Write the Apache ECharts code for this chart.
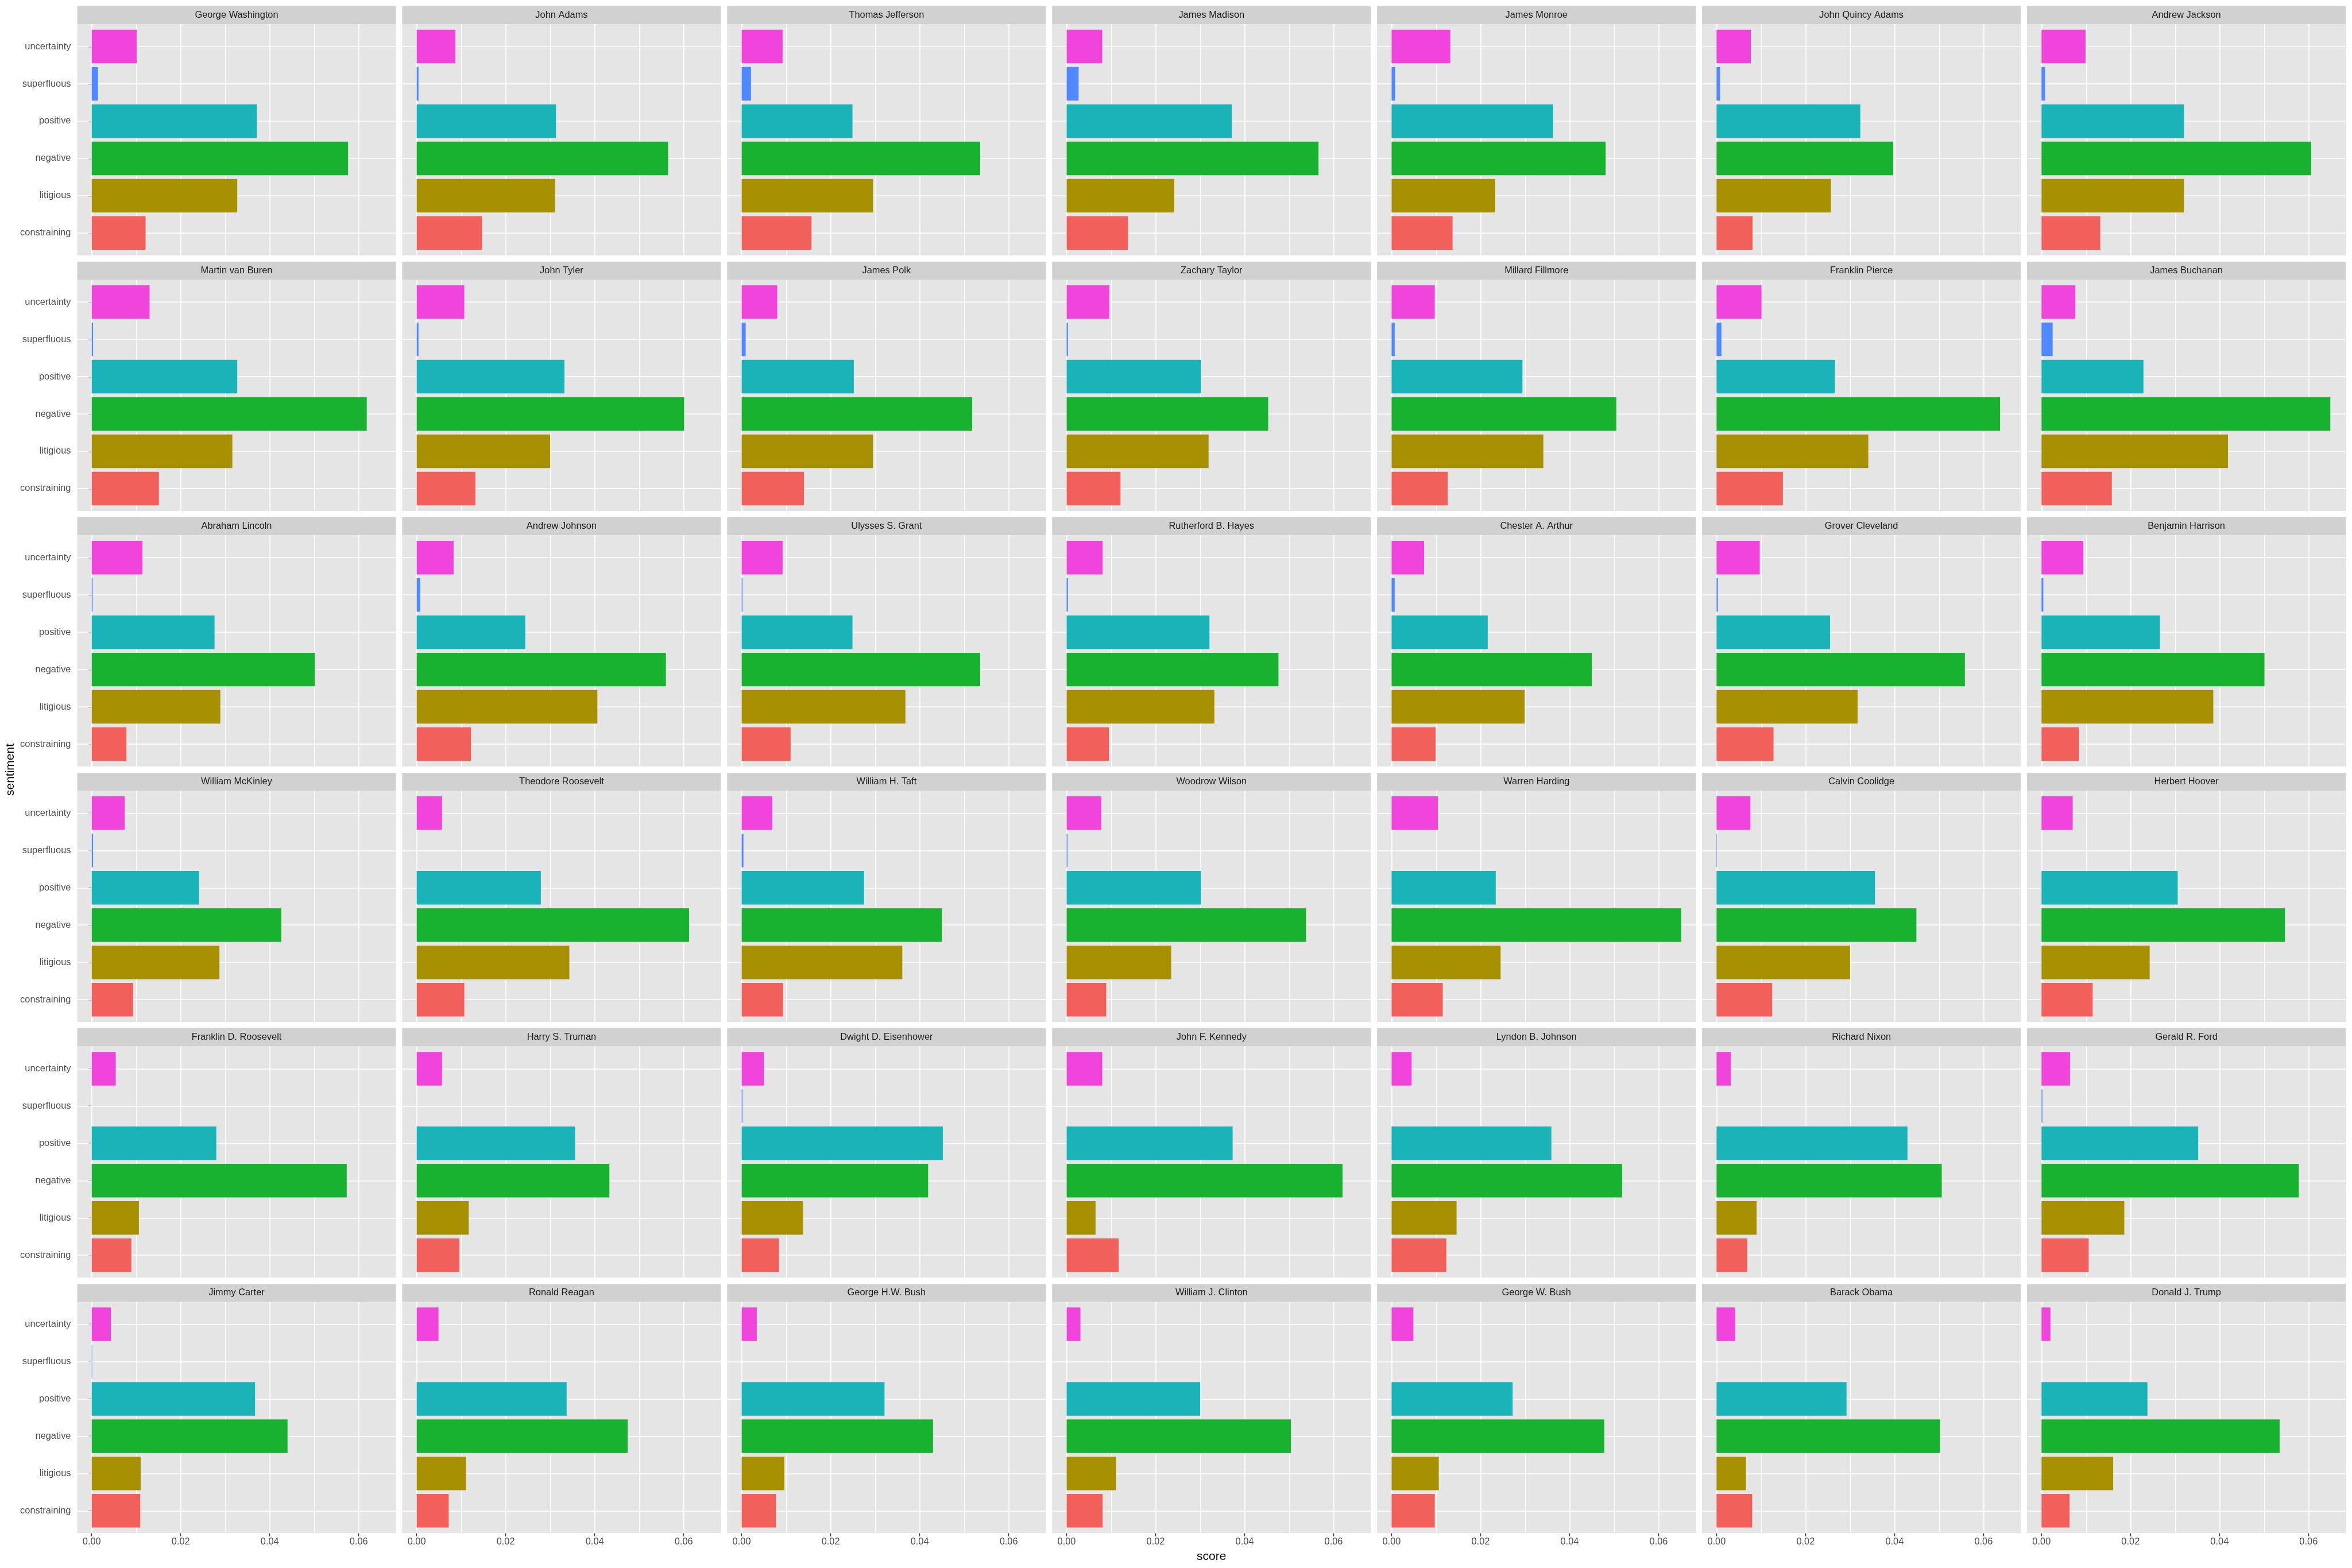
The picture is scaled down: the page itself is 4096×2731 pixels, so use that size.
<!DOCTYPE html>
<html><head><meta charset="utf-8">
<script src="https://cdn.jsdelivr.net/npm/echarts@6/dist/echarts.min.js"></script>
<style>html,body{margin:0;padding:0;background:#fff}#c{width:4096px;height:2731px}</style>
</head><body><div id="c"></div>
<script>
// ---------------- data ----------------
const presidents = [
  'George Washington','John Adams','Thomas Jefferson','James Madison','James Monroe','John Quincy Adams','Andrew Jackson',
  'Martin van Buren','John Tyler','James Polk','Zachary Taylor','Millard Fillmore','Franklin Pierce','James Buchanan',
  'Abraham Lincoln','Andrew Johnson','Ulysses S. Grant','Rutherford B. Hayes','Chester A. Arthur','Grover Cleveland','Benjamin Harrison',
  'William McKinley','Theodore Roosevelt','William H. Taft','Woodrow Wilson','Warren Harding','Calvin Coolidge','Herbert Hoover',
  'Franklin D. Roosevelt','Harry S. Truman','Dwight D. Eisenhower','John F. Kennedy','Lyndon B. Johnson','Richard Nixon','Gerald R. Ford',
  'Jimmy Carter','Ronald Reagan','George H.W. Bush','William J. Clinton','George W. Bush','Barack Obama','Donald J. Trump'
];
const sentiments = ['constraining','litigious','negative','positive','superfluous','uncertainty'];

const constraining = [0.0121,0.0147,0.0157,0.0138,0.0137,0.0081,0.0132,
  0.0151,0.0132,0.0140,0.0121,0.0126,0.0149,0.0158,
  0.0078,0.0122,0.0110,0.0095,0.0099,0.0128,0.0084,
  0.0093,0.0107,0.0093,0.0089,0.0115,0.0125,0.0115,
  0.0089,0.0096,0.0084,0.0117,0.0123,0.0069,0.0106,
  0.0109,0.0072,0.0077,0.0081,0.0097,0.0080,0.0063];
const litigious = [0.0327,0.0311,0.0295,0.0242,0.0233,0.0257,0.0320,
  0.0316,0.0300,0.0295,0.0319,0.0341,0.0341,0.0419,
  0.0289,0.0406,0.0368,0.0332,0.0299,0.0317,0.0386,
  0.0287,0.0343,0.0361,0.0235,0.0245,0.0300,0.0243,
  0.0106,0.0117,0.0138,0.0065,0.0146,0.0090,0.0186,
  0.0110,0.0111,0.0096,0.0111,0.0106,0.0066,0.0161];
const negative = [0.0576,0.0565,0.0536,0.0566,0.0481,0.0397,0.0606,
  0.0618,0.0601,0.0518,0.0453,0.0505,0.0637,0.0649,
  0.0501,0.0560,0.0536,0.0476,0.0450,0.0558,0.0501,
  0.0426,0.0612,0.0450,0.0538,0.0651,0.0449,0.0547,
  0.0573,0.0433,0.0419,0.0620,0.0518,0.0506,0.0578,
  0.0440,0.0474,0.0430,0.0504,0.0478,0.0502,0.0535];
const positive = [0.0371,0.0313,0.0249,0.0371,0.0363,0.0323,0.0320,
  0.0327,0.0332,0.0252,0.0302,0.0294,0.0266,0.0229,
  0.0276,0.0244,0.0249,0.0321,0.0216,0.0255,0.0266,
  0.0241,0.0279,0.0275,0.0302,0.0234,0.0356,0.0306,
  0.0280,0.0356,0.0452,0.0373,0.0359,0.0429,0.0352,
  0.0367,0.0337,0.0321,0.0300,0.0272,0.0292,0.0238];
const superfluous = [0.0014,0.0004,0.0021,0.0027,0.0008,0.0008,0.0008,
  0.0003,0.0004,0.0009,0.0003,0.0007,0.0011,0.0025,
  0.0002,0.0008,0.0002,0.0003,0.0007,0.0003,0.0004,
  0.0003,0,0.0004,0.0002,0,0.0001,0,
  0,0,0.0002,0,0,0,0.0002,
  0.0001,0,0,0,0,0,0];
const uncertainty = [0.0101,0.0087,0.0092,0.0080,0.0132,0.0077,0.0099,
  0.0130,0.0107,0.0080,0.0096,0.0097,0.0101,0.0076,
  0.0114,0.0083,0.0092,0.0081,0.0073,0.0097,0.0094,
  0.0074,0.0057,0.0069,0.0078,0.0104,0.0076,0.0070,
  0.0054,0.0057,0.0050,0.0080,0.0045,0.0032,0.0064,
  0.0043,0.0049,0.0034,0.0031,0.0049,0.0042,0.0020];
const xTickValues = [0, 0.02, 0.04, 0.06];
const xMinorValues = [0.01, 0.03, 0.05];
const xTitle = 'score';
const yTitle = 'sentiment';

// ---------------- styling / layout ----------------
const seriesBySentiment = [constraining, litigious, negative, positive, superfluous, uncertainty];
const COLORS = ['#F2605C','#A89003','#19B230','#19B3B8','#5088FF','#F044DC'];
const S = 4096/6000;
const FONT = '"Liberation Sans", Arial, Helvetica, sans-serif';
const NCOL = 7;
const colLeft = c => (197 + 829*c)*S;
const rowTop = r => (15.6 + 652*r)*S;
const panelW = 813*S, stripH = 46*S, panelH = 590*S;
const inset = panelH/6.2*0.1;

const allVals = [].concat(...seriesBySentiment);
const dMax = Math.max(...allVals);
const xMin = -0.05*dMax, xMax = dMax*1.05;

const grid = [], xAxis = [], yAxis = [], series = [], graphic = [];
presidents.forEach((name, p) => {
  const r = Math.floor(p/NCOL), c = p%NCOL;
  const L = colLeft(c), T = rowTop(r) + stripH;
  const bottomRow = r === Math.floor((presidents.length-1)/NCOL);
  const gA = grid.length;
  grid.push({left:L, top:T, width:panelW, height:panelH, show:true, backgroundColor:'#E5E5E5', borderWidth:0});
  grid.push({left:L, top:T+inset, width:panelW, height:panelH-2*inset, show:false});
  xAxis.push({type:'value', gridIndex:gA, min:xMin, max:xMax,
    axisLine:{show:false}, splitLine:{show:false}, minorSplitLine:{show:false},
    axisTick:{show:bottomRow, customValues:xTickValues, length:5.5, lineStyle:{color:'#333333', width:1.4}},
    axisLabel:{show:bottomRow, customValues:xTickValues, formatter:v=>v.toFixed(2), fontSize:16.4, color:'#4D4D4D', margin:7, fontFamily:FONT}
  });
  xAxis.push({type:'value', gridIndex:gA+1, min:xMin, max:xMax, show:false, splitLine:{show:false}});
  yAxis.push({type:'value', gridIndex:gA, min:0, max:1, show:false, splitLine:{show:false}});
  yAxis.push({type:'category', gridIndex:gA+1, data:sentiments,
    axisLine:{show:false}, splitLine:{show:false},
    axisTick:{show:c===0, alignWithLabel:true, interval:0, length:5.5, lineStyle:{color:'#333333', width:1.4}},
    axisLabel:{show:c===0, interval:0, fontSize:16.4, color:'#4D4D4D', margin:11, fontFamily:FONT}
  });
  // vertical grid lines (major + minor)
  series.push({type:'line', xAxisIndex:gA, yAxisIndex:gA, data:[], silent:true, z:1,
    markLine:{silent:true, z:1, symbol:['none','none'], animation:false, label:{show:false},
      emphasis:{disabled:true},
      lineStyle:{color:'#FFFFFF', type:'solid', width:1.7, opacity:1},
      data:[...xTickValues.map(v=>({xAxis:v, lineStyle:{color:'#FFFFFF', type:'solid', width:1.7}})),
            ...xMinorValues.map(v=>({xAxis:v, lineStyle:{color:'#FFFFFF', type:'solid', width:0.9}}))]
    }
  });
  // bars + horizontal grid lines
  series.push({type:'bar', xAxisIndex:gA+1, yAxisIndex:gA+1, z:2, barCategoryGap:'10%',
    silent:true,
    data: sentiments.map((s,i)=>({value:seriesBySentiment[i][p], itemStyle:{color:COLORS[i]}})),
    markLine:{silent:true, z:1, symbol:['none','none'], animation:false, label:{show:false},
      emphasis:{disabled:true},
      lineStyle:{color:'#FFFFFF', type:'solid', width:1.7, opacity:1},
      data: sentiments.map((s,i)=>({yAxis:i}))
    }
  });
  // strip
  graphic.push({type:'rect', shape:{x:L, y:rowTop(r), width:panelW, height:stripH}, style:{fill:'#D1D1D1'}, silent:true});
  graphic.push({type:'text', x:L+panelW/2, y:rowTop(r)+stripH/2, silent:true,
    style:{text:name, fontSize:16.4, fontFamily:FONT, fill:'#1A1A1A', textAlign:'center', verticalAlign:'middle', textVerticalAlign:'middle'}});
});
graphic.push({type:'text', x:(colLeft(0)+colLeft(NCOL-1)+panelW)/2, y:3971*S, silent:true,
  style:{text:xTitle, fontSize:21, fontFamily:FONT, fill:'#000000', textAlign:'center', verticalAlign:'middle', textVerticalAlign:'middle'}});
graphic.push({type:'text', x:27*S, y:(rowTop(0)+rowTop(5)+stripH+panelH)/2, rotation:Math.PI/2, silent:true,
  style:{text:yTitle, fontSize:21, fontFamily:FONT, fill:'#000000', textAlign:'center', verticalAlign:'middle', textVerticalAlign:'middle'}});

const chart = echarts.init(document.getElementById('c'), null, {renderer:'canvas'});
chart.setOption({backgroundColor:'#FFFFFF', animation:false, grid, xAxis, yAxis, series, graphic});
</script>
</body></html>
